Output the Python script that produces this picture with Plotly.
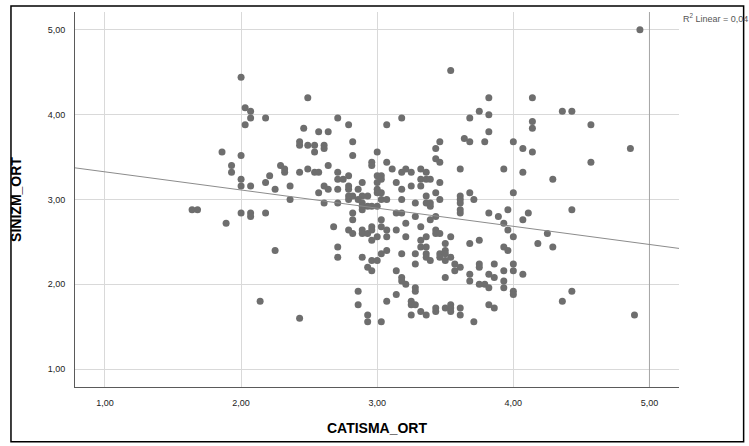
import plotly.graph_objects as go

# CATISMA_ORT (x) and SINIZM_ORT (y) values read from the scatterplot
catisma_ort = [
    2.00, 2.03, 2.07, 2.07, 2.03, 2.18, 2.49, 2.46, 2.43, 2.43, 2.49, 1.86, 2.00, 1.93, 1.93, 2.29,
    2.32, 2.32, 2.21, 2.43, 2.49, 2.00, 2.00, 2.07, 2.18, 2.25, 2.36, 2.36, 1.64, 1.68, 2.00, 2.07,
    2.07, 2.18, 1.89, 2.25, 2.14, 2.43,
    2.71, 2.79, 2.57, 2.64, 2.82, 2.54, 2.61, 2.61, 2.54, 2.82, 3.00, 2.54, 2.57, 2.64, 2.71, 2.71,
    2.75, 2.79, 2.96, 2.96, 3.00, 2.89, 2.61, 2.64, 2.57, 2.71, 2.79, 2.79, 2.79, 2.86, 2.93, 2.89,
    3.00, 3.00, 2.61, 2.71, 2.79, 2.82, 2.86, 2.89, 2.89, 2.89, 2.93, 2.96, 3.00, 2.82, 2.82, 2.68,
    2.79, 2.82, 2.89, 2.89, 2.93, 2.96, 2.96, 2.96, 3.00, 2.71, 2.71, 2.89, 2.93, 2.96, 2.96, 3.00,
    2.86, 2.86, 2.93, 2.93, 3.03,
    3.54, 3.82, 4.14, 3.75, 3.82, 3.68, 4.14, 4.14, 3.18, 3.07, 3.82, 3.64, 3.68, 3.79, 4.00, 4.07,
    4.14, 3.46, 3.43, 3.43, 3.46, 3.61, 3.93, 4.07, 4.00, 3.68, 3.61, 3.71, 4.29, 3.07, 3.11, 3.03,
    3.03, 3.18, 3.21, 3.25, 3.32, 3.36, 3.32, 3.36, 3.39, 3.14, 3.18, 3.25, 3.32, 3.46, 3.43, 3.36,
    3.00, 3.03, 3.61, 3.61, 3.61, 3.61, 3.03, 3.07, 3.18, 3.28, 3.36, 3.39, 3.39, 3.46, 3.14, 3.18,
    3.28, 3.43, 3.39, 3.03, 3.21, 3.03, 3.07, 3.14, 3.32, 3.43, 3.43, 3.46, 3.54, 3.07, 3.21, 3.32,
    3.36, 3.32, 3.36, 3.50, 3.68, 3.75, 3.82, 3.89, 3.96, 3.93, 3.96, 4.00, 4.07, 4.11, 3.93, 3.96,
    3.03, 3.07, 3.18, 3.28, 3.36, 3.36, 3.39, 3.46, 3.46, 3.50, 3.50, 3.50, 3.54, 3.57, 3.61, 3.57,
    3.28, 3.14, 3.18, 3.18, 3.21, 3.28, 3.28, 3.50, 3.68, 3.68, 3.75, 3.75, 3.86, 3.82, 3.86, 3.75,
    3.79, 3.82, 3.93, 3.93, 3.93, 4.00, 4.00, 4.00, 4.00, 4.07, 3.14, 3.07, 3.25, 3.25, 3.28, 3.32,
    3.36, 3.25, 3.43, 3.43, 3.50, 3.54, 3.54, 3.54, 3.61, 3.61, 3.71, 3.82, 3.86,
    4.18, 4.25, 4.36, 4.43, 4.57, 4.86, 4.57, 4.43, 4.29, 4.43, 4.36, 4.89, 4.93,
]
sinizm_ort = [
    4.44, 4.08, 4.04, 3.96, 3.88, 3.96, 4.20, 3.84, 3.68, 3.64, 3.64, 3.56, 3.52, 3.40, 3.32, 3.40,
    3.36, 3.32, 3.28, 3.32, 3.36, 3.24, 3.16, 3.16, 3.20, 3.12, 3.16, 3.00, 2.88, 2.88, 2.84, 2.84,
    2.80, 2.84, 2.72, 2.40, 1.80, 1.60,
    3.96, 3.88, 3.80, 3.80, 3.68, 3.64, 3.64, 3.60, 3.56, 3.52, 3.56, 3.32, 3.32, 3.40, 3.32, 3.24,
    3.24, 3.28, 3.44, 3.40, 3.28, 3.20, 3.16, 3.12, 3.08, 3.12, 3.16, 3.12, 3.04, 3.12, 3.04, 3.04,
    3.08, 3.20, 2.96, 2.96, 3.00, 3.04, 3.00, 2.96, 2.92, 2.88, 2.92, 2.92, 2.92, 2.84, 2.76, 2.68,
    2.64, 2.60, 2.64, 2.60, 2.60, 2.68, 2.64, 2.52, 2.56, 2.44, 2.32, 2.32, 2.20, 2.16, 2.28, 2.28,
    1.92, 1.76, 1.64, 1.56, 1.56,
    4.52, 4.20, 4.20, 4.04, 4.00, 3.96, 3.92, 3.84, 3.96, 3.88, 3.80, 3.72, 3.68, 3.68, 3.68, 3.60,
    3.56, 3.68, 3.60, 3.48, 3.44, 3.36, 3.36, 3.32, 3.08, 3.08, 3.04, 3.00, 3.24, 3.44, 3.36, 3.28,
    3.24, 3.32, 3.36, 3.32, 3.36, 3.32, 3.24, 3.24, 3.24, 3.20, 3.12, 3.16, 3.16, 3.20, 3.08, 3.04,
    3.12, 3.08, 3.00, 2.96, 2.88, 2.84, 3.00, 3.00, 3.00, 2.96, 2.96, 2.92, 2.96, 3.00, 2.84, 2.84,
    2.80, 2.80, 2.76, 2.76, 2.72, 2.68, 2.64, 2.64, 2.68, 2.64, 2.60, 2.60, 2.56, 2.56, 2.56, 2.52,
    2.56, 2.44, 2.44, 2.48, 2.48, 2.52, 2.84, 2.80, 2.88, 2.72, 2.64, 2.56, 2.76, 2.84, 2.44, 2.40,
    2.36, 2.40, 2.36, 2.36, 2.36, 2.32, 2.28, 2.36, 2.32, 2.40, 2.36, 2.28, 2.32, 2.24, 2.20, 2.16,
    2.24, 2.16, 2.08, 2.04, 2.00, 1.96, 1.92, 2.08, 2.12, 2.04, 2.24, 2.20, 2.24, 2.12, 2.08, 2.00,
    2.00, 1.96, 2.16, 2.04, 1.96, 2.24, 2.16, 1.92, 1.88, 2.12, 1.88, 1.80, 1.80, 1.76, 1.76, 1.68,
    1.64, 1.64, 1.72, 1.68, 1.72, 1.76, 1.72, 1.68, 1.72, 1.64, 1.56, 1.76, 1.72,
    2.48, 2.60, 4.04, 4.04, 3.88, 3.60, 3.44, 2.88, 2.44, 1.92, 1.80, 1.64, 5.00,
]

# Fit line as drawn (intercept, slope) and its reported R²
fit_intercept = 3.54
fit_slope = -0.214
r2_text = "R<sup>2</sup> Linear = 0,04"

tick_values = [1, 2, 3, 4, 5]
tick_labels = ["1,00", "2,00", "3,00", "4,00", "5,00"]

x_range = [0.78, 5.217]
y_range = [0.79, 5.21]

fig = go.Figure()

# darker reference line at x = 5 (drawn as a trace so it sits under the markers)
fig.add_trace(go.Scatter(
    x=[tick_values[-1], tick_values[-1]], y=y_range, mode="lines",
    line=dict(color="#a6a6a6", width=1), showlegend=False, hoverinfo="skip",
))

fig.add_trace(go.Scatter(
    x=catisma_ort, y=sinizm_ort, mode="markers",
    marker=dict(size=7, color="#6e6e6e", line=dict(width=0)),
    showlegend=False, hoverinfo="x+y",
))

line_x = [x_range[0], x_range[1]]
line_y = [fit_intercept + fit_slope * v for v in line_x]
fig.add_trace(go.Scatter(
    x=line_x, y=line_y, mode="lines",
    line=dict(color="#8c8c8c", width=1),
    showlegend=False, hoverinfo="skip",
))

font_family = "Liberation Sans, Arial, sans-serif"

fig.update_layout(
    width=749, height=446,
    margin=dict(l=75, r=70, t=12, b=57),
    paper_bgcolor="white", plot_bgcolor="white",
    font=dict(family=font_family, color="black", size=9),
    xaxis=dict(
        range=x_range, tickvals=tick_values, ticktext=tick_labels,
        showgrid=True, gridcolor="#d9d9d9", gridwidth=1,
        zeroline=False, showline=True, linecolor="#5a5a5a", linewidth=1,
        ticks="", ticklabelstandoff=7,
        tickfont=dict(size=9, color="#222222"),
        title=dict(text="<b>CATISMA_ORT</b>", font=dict(size=14, color="black"), standoff=16),
    ),
    yaxis=dict(
        range=y_range, tickvals=tick_values, ticktext=tick_labels,
        showgrid=True, gridcolor="#d9d9d9", gridwidth=1,
        zeroline=False, showline=True, linecolor="#5a5a5a", linewidth=1,
        ticks="", ticklabelstandoff=7,
        tickfont=dict(size=9, color="#222222"),
        title=dict(text="<b>SINIZM_ORT</b>", font=dict(size=14, color="black"), standoff=22),
    ),
    shapes=[dict(
        type="rect", xref="paper", yref="paper",
        x0=-0.106, x1=1.107, y0=-0.146, y1=1.016,
        line=dict(color="black", width=1.5), fillcolor="rgba(0,0,0,0)", layer="above",
    )],
)

# R² label at top right, outside the plot area
fig.add_annotation(
    xref="paper", yref="paper", x=1.003, y=0.984, xanchor="left", yanchor="middle",
    text=r2_text, showarrow=False, font=dict(size=9, color="#555555", family=font_family),
)

fig.write_html(
    "out.html",
    config={"displayModeBar": False},
    post_script="document.body.style.margin='0';document.body.style.padding='0';",
)
